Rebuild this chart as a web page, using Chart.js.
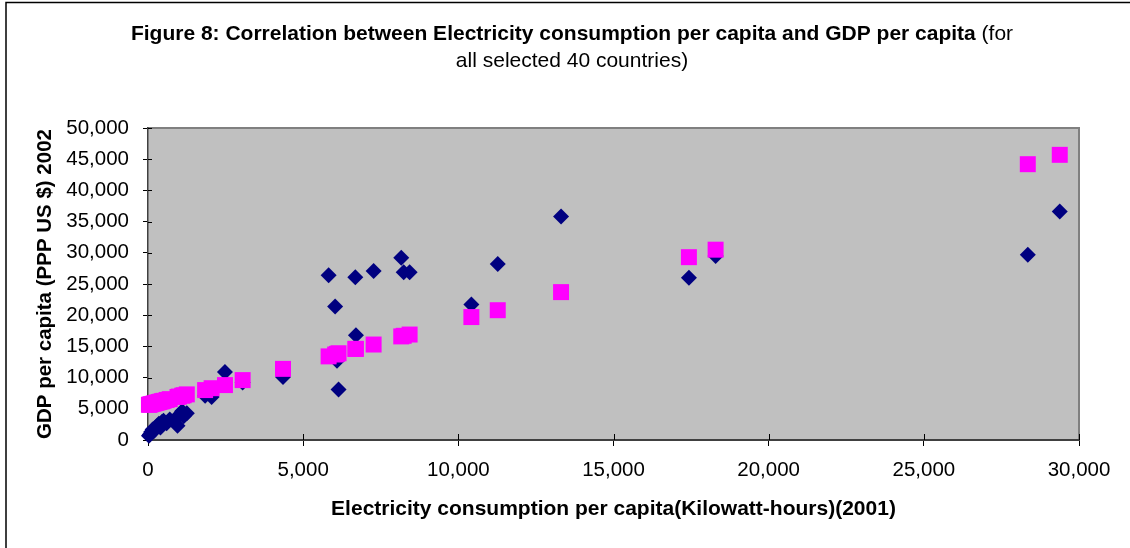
<!DOCTYPE html>
<html>
<head>
<meta charset="utf-8">
<title>Figure 8</title>
<script src="https://cdn.jsdelivr.net/npm/chart.js@4.4.1/dist/chart.umd.min.js"></script>
<style>
  html, body { margin: 0; padding: 0; background: #fff; }
  #wrap { position: relative; width: 1130px; height: 548px; }
</style>
</head>
<body>
<div id="wrap"><canvas id="grafico" width="1130" height="548"></canvas></div>
<script>
// consumo electrico per capita (kWh, 2001) de los 40 paises
const consumoElec = [
    30, 60, 100, 150, 200, 250, 300, 350, 400, 450,
    500, 600, 700, 950, 1000, 1100, 1150, 1250, 1840, 2050,
    2480, 3050, 4350, 5820, 6030, 6090, 6140, 6680, 6700, 7270,
    8160, 8240, 8430, 10420, 11270, 13310, 17430, 18290, 28350, 29380
];
// PIB per capita (PPP US $, 2002)
const pibReal = [
    700, 900, 1300, 1700, 1500, 2000, 2300, 2600, 2000, 2900,
    3100, 2700, 3300, 2300, 4000, 4600, 3800, 4300, 7100, 6900,
    10900, 9200, 10100, 26400, 21400, 12700, 8100, 26100, 16800, 27100,
    29200, 26900, 26900, 21700, 28200, 35800, 26000, 29500, 29700, 36600
];
// PIB estimado (tendencia, cuadros magenta)
const pibTendencia = [
    5640, 5680, 5740, 5800, 5870, 5940, 6010, 6080, 6150, 6210,
    6280, 6420, 6550, 6900, 6960, 7100, 7170, 7310, 8000, 8300,
    8800, 9600, 11400, 13400, 13700, 13800, 13900, 14600, 14600, 15300,
    16600, 16700, 16900, 19700, 20800, 23700, 29300, 30500, 44200, 45700
];

const tituloNegrita = 'Figure 8: Correlation between Electricity consumption per capita and GDP per capita';
const tituloNormal = ' (for';
const tituloLinea2 = 'all selected 40 countries)';
const tituloX = 'Electricity consumption per capita(Kilowatt-hours)(2001)';
const tituloY = 'GDP per capita (PPP US $) 2002';

const FUENTE = '"Liberation Sans", Arial, sans-serif';

const puntosReales = consumoElec.map((x, i) => ({ x: x, y: pibReal[i] }));
const puntosTendencia = consumoElec.map((x, i) => ({ x: x, y: pibTendencia[i] }));

// fondo gris, marco, titulo y marcas cruzadas
const decoracion = {
    id: 'decoracion',
    beforeDraw(chart) {
        const { ctx, chartArea: a } = chart;
        ctx.save();
        ctx.fillStyle = '#ffffff';
        ctx.fillRect(0, 0, chart.width, chart.height);
        ctx.fillStyle = '#c0c0c0';
        ctx.fillRect(a.left, a.top, a.right - a.left, a.bottom - a.top);
        ctx.strokeStyle = '#808080';
        ctx.lineWidth = 2;
        ctx.beginPath();
        ctx.moveTo(a.left, a.top);
        ctx.lineTo(a.right, a.top);
        ctx.lineTo(a.right, a.bottom);
        ctx.stroke();
        // marco exterior
        ctx.strokeStyle = '#000';
        ctx.lineWidth = 1.5;
        ctx.beginPath();
        ctx.moveTo(6, chart.height);
        ctx.lineTo(6, 2.5);
        ctx.lineTo(chart.width, 2.5);
        ctx.stroke();
        // titulo
        ctx.fillStyle = '#000';
        ctx.textBaseline = 'alphabetic';
        ctx.font = 'bold 21px ' + FUENTE;
        const w1 = ctx.measureText(tituloNegrita).width;
        ctx.font = '21px ' + FUENTE;
        const w2 = ctx.measureText(tituloNormal).width;
        const x0 = 572 - (w1 + w2) / 2;
        ctx.font = 'bold 21px ' + FUENTE;
        ctx.textAlign = 'left';
        ctx.fillText(tituloNegrita, x0, 40);
        ctx.font = '21px ' + FUENTE;
        ctx.fillText(tituloNormal, x0 + w1, 40);
        ctx.textAlign = 'center';
        ctx.fillText(tituloLinea2, 572, 67);
        ctx.restore();
    },
    beforeDatasetsDraw(chart) {
        const { ctx, chartArea: a, scales } = chart;
        ctx.save();
        ctx.strokeStyle = '#000';
        ctx.lineWidth = 1;
        ctx.beginPath();
        scales.x.ticks.forEach(t => {
            const px = Math.round(scales.x.getPixelForValue(t.value)) + 0.5;
            ctx.moveTo(px, a.bottom);
            ctx.lineTo(px, a.bottom - 6);
        });
        scales.y.ticks.forEach(t => {
            const py = Math.round(scales.y.getPixelForValue(t.value)) + 0.5;
            ctx.moveTo(a.left, py);
            ctx.lineTo(a.left + 4, py);
        });
        ctx.stroke();
        ctx.restore();
    }
};

const ctx = document.getElementById('grafico').getContext('2d');

new Chart(ctx, {
    type: 'scatter',
    data: {
        datasets: [{
            label: 'Tendencia',
            data: puntosTendencia,
            pointStyle: 'rect',
            pointRadius: 11.3,
            pointHoverRadius: 11.3,
            backgroundColor: '#ff00ff',
            borderWidth: 0,
            clip: false,
            order: 0
        }, {
            label: 'PIB per capita',
            data: puntosReales,
            pointStyle: 'rectRot',
            pointRadius: 8,
            pointHoverRadius: 8,
            backgroundColor: '#000080',
            borderWidth: 0,
            clip: false,
            order: 1
        }]
    },
    options: {
        responsive: false,
        animation: false,
        events: [],
        layout: { padding: { top: 128, right: 51, left: 0, bottom: 0 } },
        plugins: {
            legend: { display: false },
            tooltip: { enabled: false },
            title: { display: false }
        },
        scales: {
            x: {
                type: 'linear',
                min: 0,
                max: 30000,
                afterFit: s => { s.height = 108; },
                border: { display: true, color: '#404040', width: 2 },
                grid: { drawOnChartArea: false, drawTicks: true, tickLength: 6, color: '#000' },
                ticks: {
                    stepSize: 5000,
                    padding: 12,
                    color: '#000',
                    font: { family: FUENTE, size: 20.5 },
                    maxRotation: 0,
                    callback: v => v.toLocaleString('en-US')
                },
                title: {
                    display: true,
                    text: tituloX,
                    color: '#000',
                    font: { family: FUENTE, size: 21, weight: 'bold' },
                    padding: { top: 0, bottom: 26 }
                }
            },
            y: {
                type: 'linear',
                min: 0,
                max: 50000,
                afterFit: s => { s.width = 148; },
                border: { display: true, color: '#404040', width: 1.5 },
                grid: { drawOnChartArea: false, drawTicks: true, tickLength: 5, color: '#000' },
                ticks: {
                    stepSize: 5000,
                    padding: 14,
                    color: '#000',
                    font: { family: FUENTE, size: 20.5 },
                    callback: v => v.toLocaleString('en-US')
                },
                title: {
                    display: true,
                    text: tituloY,
                    color: '#000',
                    font: { family: FUENTE, size: 20.5, weight: 'bold' },
                    padding: { top: 33, bottom: 0 }
                }
            }
        }
    },
    plugins: [decoracion]
});
</script>
</body>
</html>
